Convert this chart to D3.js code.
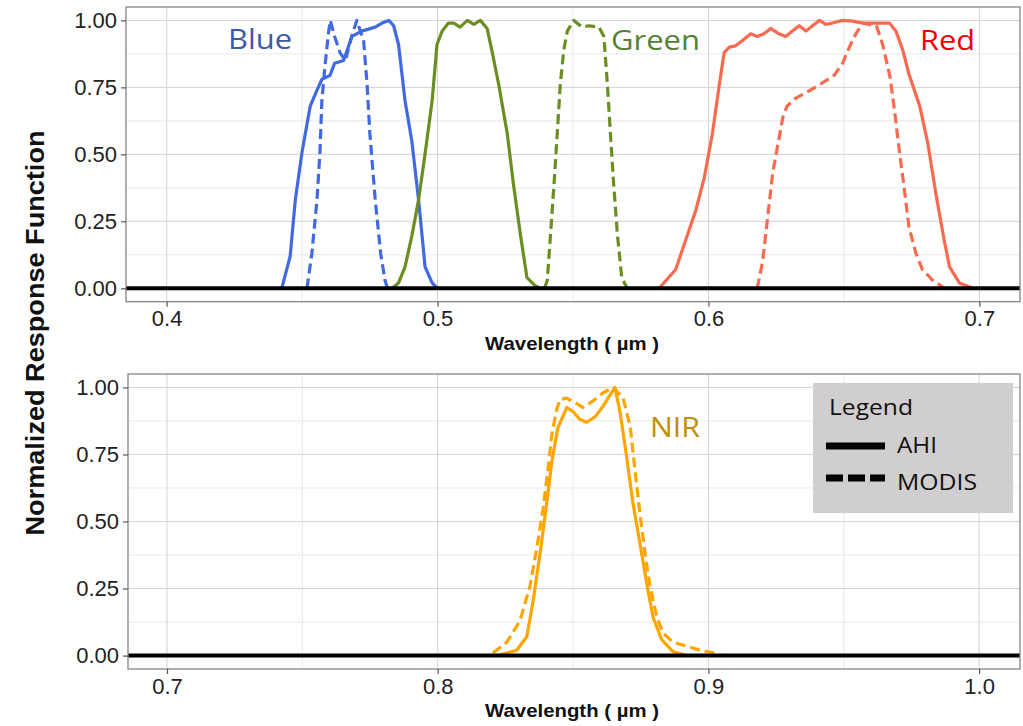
<!DOCTYPE html>
<html>
<head>
<meta charset="utf-8">
<script src="https://cdn.jsdelivr.net/npm/d3@7"></script>
<style>
  body { margin: 0; background: #fff; }
  svg { display: block; }
</style>
</head>
<body>
<svg id="chart" width="1023" height="726"></svg>
<script>
// Spectral response curves, [wavelength (um), normalized response]
const blueAhi = [[0.4425,0],[0.4456,0.12],[0.4475,0.33],[0.4500,0.51],[0.4530,0.68],[0.4555,0.74],[0.4573,0.78],[0.4603,0.795],[0.4620,0.84],[0.4653,0.85],[0.4684,0.94],[0.4720,0.96],[0.4770,0.975],[0.4795,0.99],[0.4820,1.0],[0.4838,0.98],[0.4856,0.91],[0.4880,0.70],[0.4905,0.55],[0.4930,0.33],[0.4954,0.08],[0.4980,0.02],[0.5000,0]];
const blueModis = [[0.4518,0],[0.4536,0.13],[0.4555,0.33],[0.4566,0.51],[0.4573,0.70],[0.4584,0.825],[0.4597,0.95],[0.4604,1.0],[0.4620,0.94],[0.4640,0.88],[0.4660,0.85],[0.4680,0.93],[0.4702,1.0],[0.4727,0.925],[0.4740,0.76],[0.4750,0.58],[0.4770,0.33],[0.4790,0.13],[0.4806,0.03],[0.4815,0]];
const greenAhi = [[0.4832,0],[0.4856,0.02],[0.4880,0.08],[0.4906,0.20],[0.4930,0.33],[0.4955,0.51],[0.4980,0.70],[0.4998,0.91],[0.5017,0.96],[0.5040,0.99],[0.5060,0.99],[0.5083,0.975],[0.5110,1.0],[0.5134,0.985],[0.5158,1.0],[0.5183,0.97],[0.5200,0.89],[0.5226,0.76],[0.5257,0.58],[0.5280,0.39],[0.5306,0.20],[0.5330,0.04],[0.5360,0.01],[0.5380,0]];
const greenModis = [[0.5395,0],[0.5405,0.03],[0.5417,0.20],[0.5430,0.39],[0.5442,0.58],[0.5453,0.76],[0.5466,0.89],[0.5479,0.96],[0.5503,1.0],[0.5534,0.975],[0.5558,0.98],[0.5596,0.975],[0.5614,0.94],[0.5627,0.76],[0.5638,0.58],[0.5650,0.39],[0.5664,0.20],[0.5680,0.04],[0.5700,0]];
const redAhi = [[0.5818,0],[0.5879,0.07],[0.5916,0.18],[0.5953,0.29],[0.5984,0.41],[0.6015,0.58],[0.6040,0.76],[0.6058,0.88],[0.6077,0.90],[0.6100,0.905],[0.6126,0.925],[0.6156,0.95],[0.6180,0.94],[0.6205,0.95],[0.6230,0.97],[0.6260,0.95],[0.6285,0.94],[0.6310,0.96],[0.6335,0.98],[0.6360,0.96],[0.6384,0.98],[0.6410,1.0],[0.6433,0.985],[0.6458,0.99],[0.6495,1.0],[0.6532,0.997],[0.6570,0.99],[0.6606,0.99],[0.6643,0.99],[0.6668,0.99],[0.6692,0.96],[0.6717,0.89],[0.6740,0.80],[0.6780,0.68],[0.6810,0.54],[0.6840,0.35],[0.6870,0.18],[0.6890,0.08],[0.6926,0.02],[0.6976,0]];
const redModis = [[0.6180,0],[0.6200,0.10],[0.6218,0.26],[0.6237,0.43],[0.6255,0.53],[0.6275,0.64],[0.6290,0.68],[0.6322,0.71],[0.6360,0.73],[0.6410,0.76],[0.6464,0.795],[0.6495,0.84],[0.6520,0.90],[0.6544,0.95],[0.6570,0.99],[0.6594,0.985],[0.6620,0.98],[0.6643,0.91],[0.6670,0.79],[0.6686,0.67],[0.6705,0.51],[0.6723,0.37],[0.6740,0.23],[0.6766,0.13],[0.6790,0.07],[0.6828,0.03],[0.6858,0.01],[0.6870,0]];
const nirAhi = [[0.8218,0],[0.8292,0.02],[0.8329,0.07],[0.8352,0.20],[0.8378,0.38],[0.8403,0.57],[0.8421,0.72],[0.8444,0.85],[0.8477,0.925],[0.8500,0.91],[0.8526,0.88],[0.8550,0.87],[0.8581,0.89],[0.8611,0.93],[0.8636,0.97],[0.8655,1.0],[0.8674,0.905],[0.8698,0.74],[0.8721,0.57],[0.8747,0.42],[0.8772,0.27],[0.8795,0.145],[0.8827,0.06],[0.8869,0.015],[0.8920,0]];
const nirModis = [[0.8204,0.01],[0.8255,0.05],[0.8304,0.13],[0.8341,0.26],[0.8366,0.40],[0.8389,0.545],[0.8407,0.69],[0.8421,0.82],[0.8440,0.92],[0.8452,0.955],[0.8477,0.96],[0.8513,0.94],[0.8537,0.925],[0.8574,0.95],[0.8611,0.98],[0.8648,1.0],[0.8685,0.96],[0.8711,0.855],[0.8729,0.69],[0.8747,0.53],[0.8766,0.38],[0.8784,0.26],[0.8809,0.145],[0.8832,0.085],[0.8869,0.05],[0.8920,0.035],[0.8969,0.02],[0.9017,0.01],[0.9050,0]];

const yTicks = [0, 0.25, 0.5, 0.75, 1];
const yMinor = [0.125, 0.375, 0.625, 0.875];
const topXTicks = [0.4, 0.5, 0.6, 0.7];
const topXMinor = [0.45, 0.55, 0.65];
const bottomXTicks = [0.7, 0.8, 0.9, 1.0];
const bottomXMinor = [0.75, 0.85, 0.95];
const legendItems = ["AHI", "MODIS"];
const legendWidths = [40, 80];

const tickFont = "'Liberation Sans', Arial, sans-serif";
const labelFont = "'Open Sans', 'Noto Sans', sans-serif";

const svg = d3.select("#chart");

function drawPanel(opts) {
    const x = d3.scaleLinear().domain(opts.xDomain).range([opts.left, opts.right]);
    const y = d3.scaleLinear().domain([-0.05, 1.05]).range([opts.bottom, opts.top]);
    const g = svg.append("g");

    // grid
    g.selectAll(".vminor").data(opts.xMinor).enter().append("line")
        .attr("x1", d => x(d)).attr("x2", d => x(d))
        .attr("y1", opts.top).attr("y2", opts.bottom)
        .attr("stroke", "#e3e3e3").attr("stroke-width", 0.8);
    g.selectAll(".hminor").data(yMinor).enter().append("line")
        .attr("x1", opts.left).attr("x2", opts.right)
        .attr("y1", d => y(d)).attr("y2", d => y(d))
        .attr("stroke", "#e3e3e3").attr("stroke-width", 0.8);
    g.selectAll(".vmajor").data(opts.xTicks).enter().append("line")
        .attr("x1", d => x(d)).attr("x2", d => x(d))
        .attr("y1", opts.top).attr("y2", opts.bottom)
        .attr("stroke", "#d3d3d3").attr("stroke-width", 1);
    g.selectAll(".hmajor").data(yTicks).enter().append("line")
        .attr("x1", opts.left).attr("x2", opts.right)
        .attr("y1", d => y(d)).attr("y2", d => y(d))
        .attr("stroke", "#d3d3d3").attr("stroke-width", 1);

    const line = d3.line().x(d => x(d[0])).y(d => y(d[1]));

    opts.curves.forEach(c => {
        g.append("path")
            .datum(c.data)
            .attr("d", line)
            .attr("fill", "none")
            .attr("stroke", c.color)
            .attr("stroke-width", 3.2)
            .attr("stroke-linejoin", "round")
            .attr("stroke-dasharray", c.dashed ? "10,5" : null);
    });

    // zero baseline
    g.append("line")
        .attr("x1", opts.left).attr("x2", opts.right)
        .attr("y1", y(0)).attr("y2", y(0))
        .attr("stroke", "#000").attr("stroke-width", 4);

    // border
    g.append("rect")
        .attr("x", opts.left).attr("y", opts.top)
        .attr("width", opts.right - opts.left).attr("height", opts.bottom - opts.top)
        .attr("fill", "none").attr("stroke", "#858585").attr("stroke-width", 1.3);

    // axes
    const yAxis = g.append("g")
        .attr("transform", `translate(${opts.left},0)`)
        .call(d3.axisLeft(y).tickValues(yTicks).tickFormat(d3.format(".2f")).tickSize(5).tickPadding(4));
    const xAxis = g.append("g")
        .attr("transform", `translate(0,${opts.bottom})`)
        .call(d3.axisBottom(x).tickValues(opts.xTicks).tickFormat(d3.format(".1f")).tickSize(5).tickPadding(4));
    [yAxis, xAxis].forEach(a => {
        a.select(".domain").remove();
        a.selectAll(".tick line").attr("stroke", "#555").attr("stroke-width", 1.2);
        a.selectAll(".tick text").attr("fill", "#222")
            .style("font-family", tickFont).style("font-size", "22px");
    });

    // x title
    g.append("text")
        .attr("x", 572).attr("y", opts.bottom + 48)
        .attr("text-anchor", "middle")
        .attr("textLength", 174).attr("lengthAdjust", "spacingAndGlyphs")
        .style("font-family", tickFont).style("font-weight", "bold").style("font-size", "19px")
        .attr("fill", "#111")
        .text("Wavelength ( µm )");

    opts.labels.forEach(l => {
        g.append("text")
            .attr("x", l.x).attr("y", l.y)
            .attr("fill", l.color)
            .attr("textLength", l.w).attr("lengthAdjust", "spacingAndGlyphs")
            .style("font-family", labelFont).style("font-size", "28px")
            .text(l.text);
    });
    return { x, y, g };
}

drawPanel({
    left: 126, right: 1020, top: 7, bottom: 301.7,
    xDomain: [0.385, 0.715],
    xTicks: topXTicks, xMinor: topXMinor,
    curves: [
        { data: blueAhi, color: "#4169e1" },
        { data: blueModis, color: "#4169e1", dashed: true },
        { data: greenAhi, color: "#6b8e23" },
        { data: greenModis, color: "#6b8e23", dashed: true },
        { data: redAhi, color: "#fa6a50" },
        { data: redModis, color: "#fa6a50", dashed: true }
    ],
    labels: [
        { text: "Blue", x: 228, y: 49, color: "#3b5ba8", w: 64 },
        { text: "Green", x: 611, y: 50, color: "#548235", w: 89 },
        { text: "Red", x: 920, y: 50, color: "#ee0000", w: 55 }
    ]
});

drawPanel({
    left: 128, right: 1020, top: 374, bottom: 669,
    xDomain: [0.6856, 1.0151],
    xTicks: bottomXTicks, xMinor: bottomXMinor,
    curves: [
        { data: nirAhi, color: "#ffa500" },
        { data: nirModis, color: "#ffa500", dashed: true }
    ],
    labels: [
        { text: "NIR", x: 650, y: 437, color: "#bf9000", w: 50 }
    ]
});

// shared y title
svg.append("text")
    .attr("transform", "translate(35,333) rotate(-90)")
    .attr("text-anchor", "middle")
    .attr("dominant-baseline", "central")
    .attr("textLength", 405).attr("lengthAdjust", "spacingAndGlyphs")
    .style("font-family", tickFont).style("font-weight", "bold").style("font-size", "25px")
    .attr("fill", "#111")
    .text("Normalized Response Function");

// legend
const lg = svg.append("g");
lg.append("rect").attr("x", 813).attr("y", 383).attr("width", 200).attr("height", 130).attr("fill", "#d0cece");
lg.append("text").attr("x", 829).attr("y", 415)
    .style("font-family", labelFont).style("font-size", "22px").attr("fill", "#111")
    .attr("textLength", 84).attr("lengthAdjust", "spacingAndGlyphs")
    .text("Legend");
lg.selectAll(".key").data(legendItems).enter().append("line")
    .attr("x1", 826).attr("x2", 885)
    .attr("y1", (d, i) => 446 + i * 32).attr("y2", (d, i) => 446 + i * 32)
    .attr("stroke", "#000").attr("stroke-width", 7)
    .attr("stroke-dasharray", (d, i) => i === 1 ? "17,5" : null);
lg.selectAll(".keytext").data(legendItems).enter().append("text")
    .attr("x", 897).attr("y", (d, i) => 453 + i * 37)
    .attr("textLength", (d, i) => legendWidths[i]).attr("lengthAdjust", "spacingAndGlyphs")
    .style("font-family", labelFont).style("font-size", "22px").attr("fill", "#111")
    .text(d => d);
</script>
</body>
</html>
